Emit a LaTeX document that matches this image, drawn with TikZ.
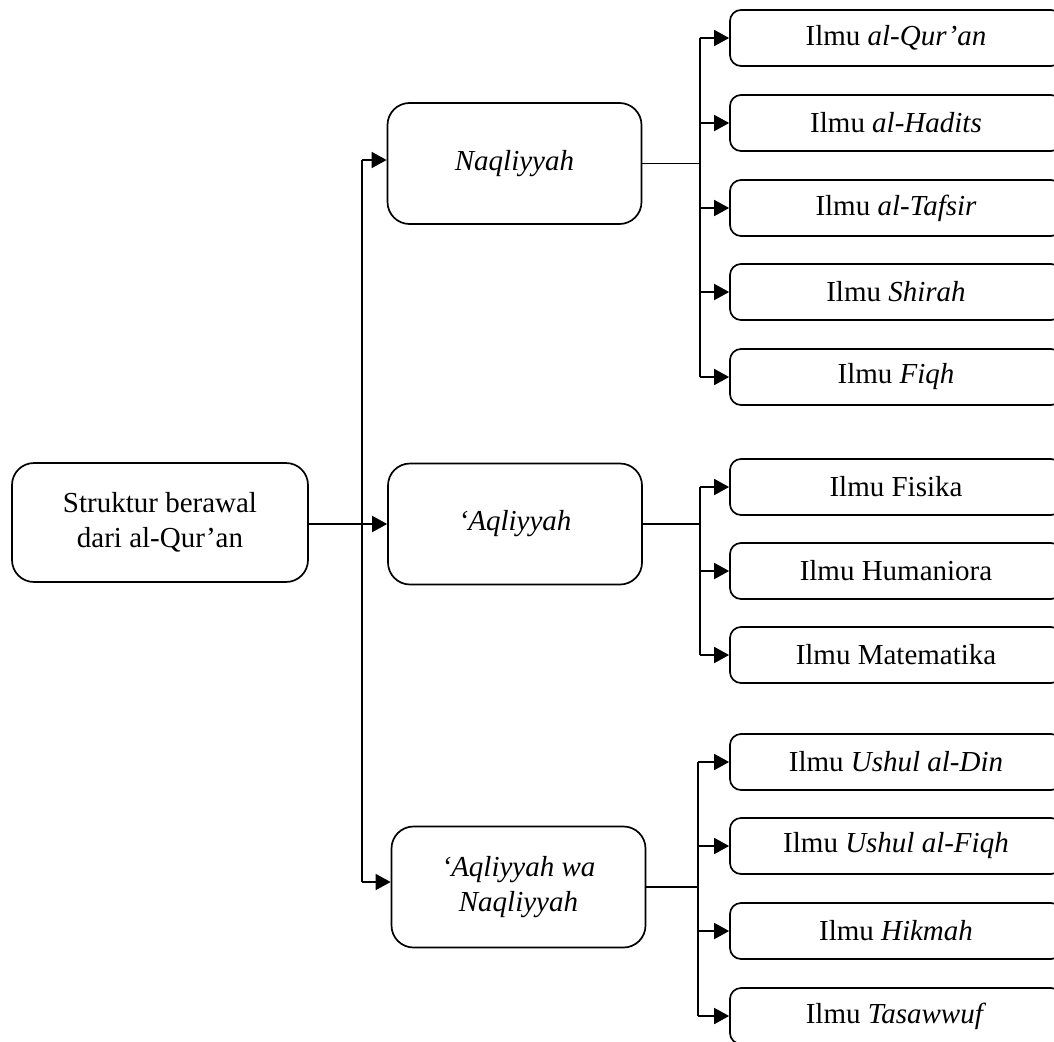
\documentclass[tikz,border=0pt]{standalone}
\usepackage{fontspec}
\setmainfont{Liberation Serif}
\usetikzlibrary{arrows.meta}
\tikzset{
  base/.style={draw, line width=1.7pt, align=center, inner sep=0pt,
    font=\fontsize{29}{35}\selectfont},
  rootbox/.style={base, rounded corners=22pt, minimum width=296pt, minimum height=119pt},
  midbox/.style={base, rounded corners=22pt, minimum width=254pt, minimum height=121pt},
  leafbox/.style={base, rounded corners=11pt, minimum width=332pt, minimum height=56pt},
  conn/.style={line width=1.7pt},
  arr/.style={line width=1.7pt, -{Triangle[length=15pt,width=16pt]}}
}
\begin{document}
\begin{tikzpicture}[x=1pt,y=-1pt]
\useasboundingbox (0,0) rectangle (1054,1041);
\clip (0,0) rectangle (1054,1041);
% root and level-1 boxes
\node[rootbox] (root) at (160,522.5) {Struktur berawal\\dari al-Qur’an};
\node[midbox] (nq) at (514.5,163.5) {\itshape Naqliyyah};
\node[midbox] (aq) at (515,524) {\itshape ‘Aqliyyah};
\node[midbox] (aw) at (518.5,887) {\itshape ‘Aqliyyah wa\\\itshape Naqliyyah};
% leaves
\node[leafbox] (l1) at (896,38) {Ilmu \textit{al-Qur’an}};
\node[leafbox] (l2) at (896,123) {Ilmu \textit{al-Hadits}};
\node[leafbox] (l3) at (896,208) {Ilmu \textit{al-Tafsir}};
\node[leafbox] (l4) at (896,292) {Ilmu \textit{Shirah}};
\node[leafbox] (l5) at (896,377) {Ilmu \textit{Fiqh}};
\node[leafbox] (m1) at (896,487) {Ilmu Fisika};
\node[leafbox] (m2) at (896,571) {Ilmu Humaniora};
\node[leafbox] (m3) at (896,655) {Ilmu Matematika};
\node[leafbox] (n1) at (896,762) {Ilmu \textit{Ushul al-Din}};
\node[leafbox] (n2) at (896,846) {Ilmu \textit{Ushul al-Fiqh}};
\node[leafbox] (n3) at (896,931) {Ilmu \textit{Hikmah}};
\node[leafbox] (n4) at (896,1016) {Ilmu \textit{Tasawwuf}};
% trunk from root
\coordinate (t1) at (362,160);
\coordinate (t2) at (362,882);
\draw[arr] (root.east |- aq.west) -- (aq.west);
\draw[conn] (t1) -- (t2);
\draw[arr] (t1) -- (t1 -| nq.west);
\draw[arr] (t2) -- (t2 -| aw.west);
% Naqliyyah group
\coordinate (a0) at (700,163.5);
\draw[conn] (nq.east) -- (a0);
\draw[conn] (700,38) coordinate (atop) -- (700,377) coordinate (abot);
\foreach \n in {l1,l2,l3,l4,l5}{
  \draw[arr] (atop |- \n.west) -- (\n.west);
}
% Aqliyyah group
\coordinate (b0) at (700,524);
\draw[conn] (aq.east) -- (b0);
\draw[conn] (700,487) coordinate (btop) -- (700,655) coordinate (bbot);
\foreach \n in {m1,m2,m3}{
  \draw[arr] (btop |- \n.west) -- (\n.west);
}
% Aqliyyah wa Naqliyyah group
\coordinate (c0) at (698,887);
\draw[conn] (aw.east) -- (c0);
\draw[conn] (698,762) coordinate (ctop) -- (698,1016) coordinate (cbot);
\foreach \n in {n1,n2,n3,n4}{
  \draw[arr] (ctop |- \n.west) -- (\n.west);
}
\end{tikzpicture}
\end{document}
